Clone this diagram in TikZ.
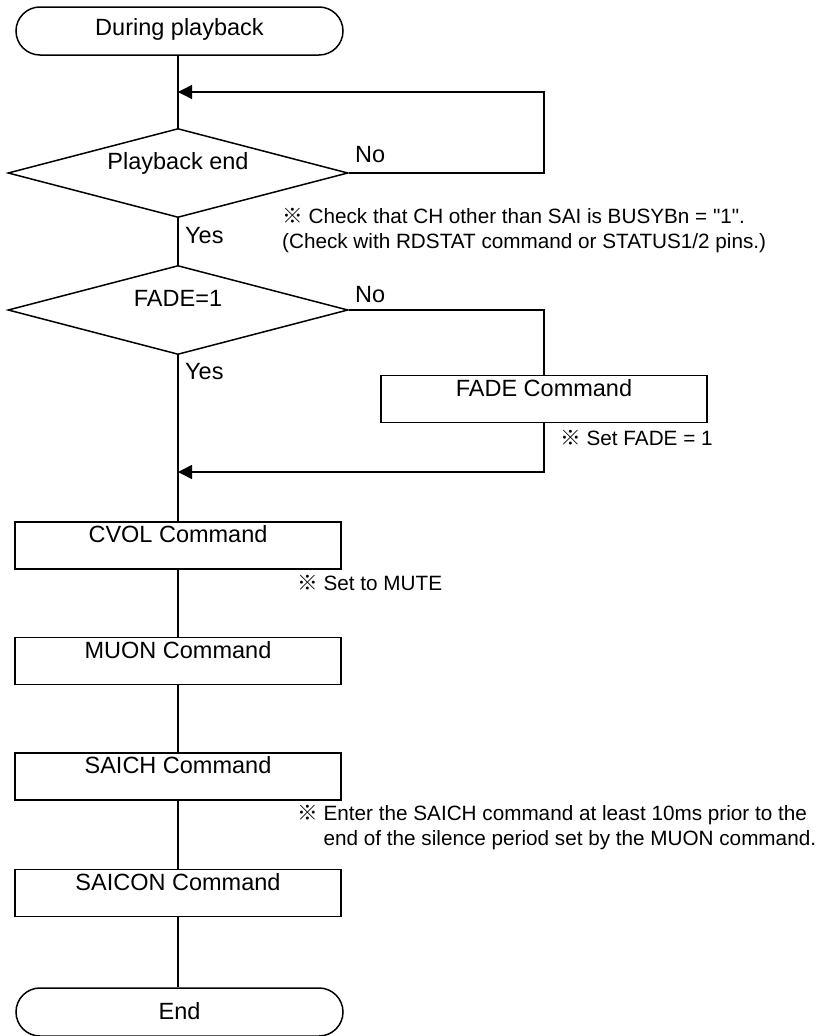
\documentclass[tikz,border=0pt]{standalone}
\usepackage{fontspec}
\setmainfont{Liberation Sans}[Ligatures=TeXOff]
\newfontfamily\cjk{Noto Sans CJK JP}
\usetikzlibrary{arrows.meta,shapes.geometric,positioning}
\tikzset{
    flow/.style={line width=1.5pt},
    arr/.style={flow,-{Triangle[length=14pt,width=14pt]}},
    term/.style={draw,flow,rounded corners=24pt,minimum width=327pt,minimum height=48pt,inner sep=0pt,text height=17pt,text depth=9pt,font=\fontsize{23.5}{28}\selectfont},
    decide/.style={draw,flow,diamond,aspect=3.82,minimum width=340pt,minimum height=89pt,inner sep=0pt,text height=17pt,text depth=25pt,font=\fontsize{23.5}{28}\selectfont},
    proc/.style={draw,flow,rectangle,minimum width=326pt,minimum height=47pt,inner sep=0pt,text height=17pt,text depth=23pt,font=\fontsize{23.5}{28}\selectfont},
    lbl/.style={anchor=base west,inner sep=0pt,font=\fontsize{23.5}{28}\selectfont},
    note/.style={anchor=base west,inner sep=0pt,align=left,font=\fontsize{20.7}{25}\selectfont}
}

\begin{document}
\begin{tikzpicture}[x=1pt,y=-1pt]
    \useasboundingbox (0,0) rectangle (833,1036);

    \node[term] (start) at (179.5,31) {During playback};
    \node[decide] (pbend) at (178,173) {Playback end};
    \node[decide] (fade) at (178,310) {FADE=1};
    \node[proc] (fadecmd) at (544,399) {FADE Command};
    \node[proc] (cvol) at (178,545.5) {CVOL Command};
    \node[proc] (muon) at (178,661) {MUON Command};
    \node[proc] (saich) at (178,776.5) {SAICH Command};
    \node[proc] (saicon) at (178,893) {SAICON Command};
    \node[term,text depth=3pt] (stop) at (179.5,1012) {End};

    \coordinate (loopin) at (178,92);
    \coordinate (joinin) at (178,472);

    \draw[flow] (start.south -| pbend.north) -- (pbend.north);
    \draw[arr] (pbend.east) -| (fadecmd.north |- loopin) -- (loopin);
    \draw[flow] (pbend.south) -- (fade.north);
    \draw[flow] (fade.east) -| (fadecmd.north);
    \draw[flow] (fade.south) -- (cvol.north);
    \draw[arr] (fadecmd.south) |- (joinin);
    \draw[flow] (cvol) -- (muon);
    \draw[flow] (muon) -- (saich);
    \draw[flow] (saich) -- (saicon);
    \draw[flow] (saicon.south) -- (stop.north -| saicon.south);

    \node[lbl] (no1) at (355,162) {No};
    \node[lbl] (yes1) at (185,243) {Yes};
    \node[lbl] (no2) at (355,302) {No};
    \node[lbl] (yes2) at (185,379) {Yes};

    \node[note] (chknote) at (282,248) {{\cjk ※} Check that CH other than SAI is BUSYBn = "1".\\(Check with RDSTAT command or STATUS1/2 pins.)};
    \node[note] (fadenote) at (560,445) {{\cjk ※} Set FADE = 1};
    \node[note] (mutenote) at (297,590) {{\cjk ※} Set to MUTE};
    \node[note] (saichnote) at (297,845) {{\cjk ※} Enter the SAICH command at least 10ms prior to the\\\phantom{{\cjk ※} }end of the silence period set by the MUON command.};
\end{tikzpicture}
\end{document}
